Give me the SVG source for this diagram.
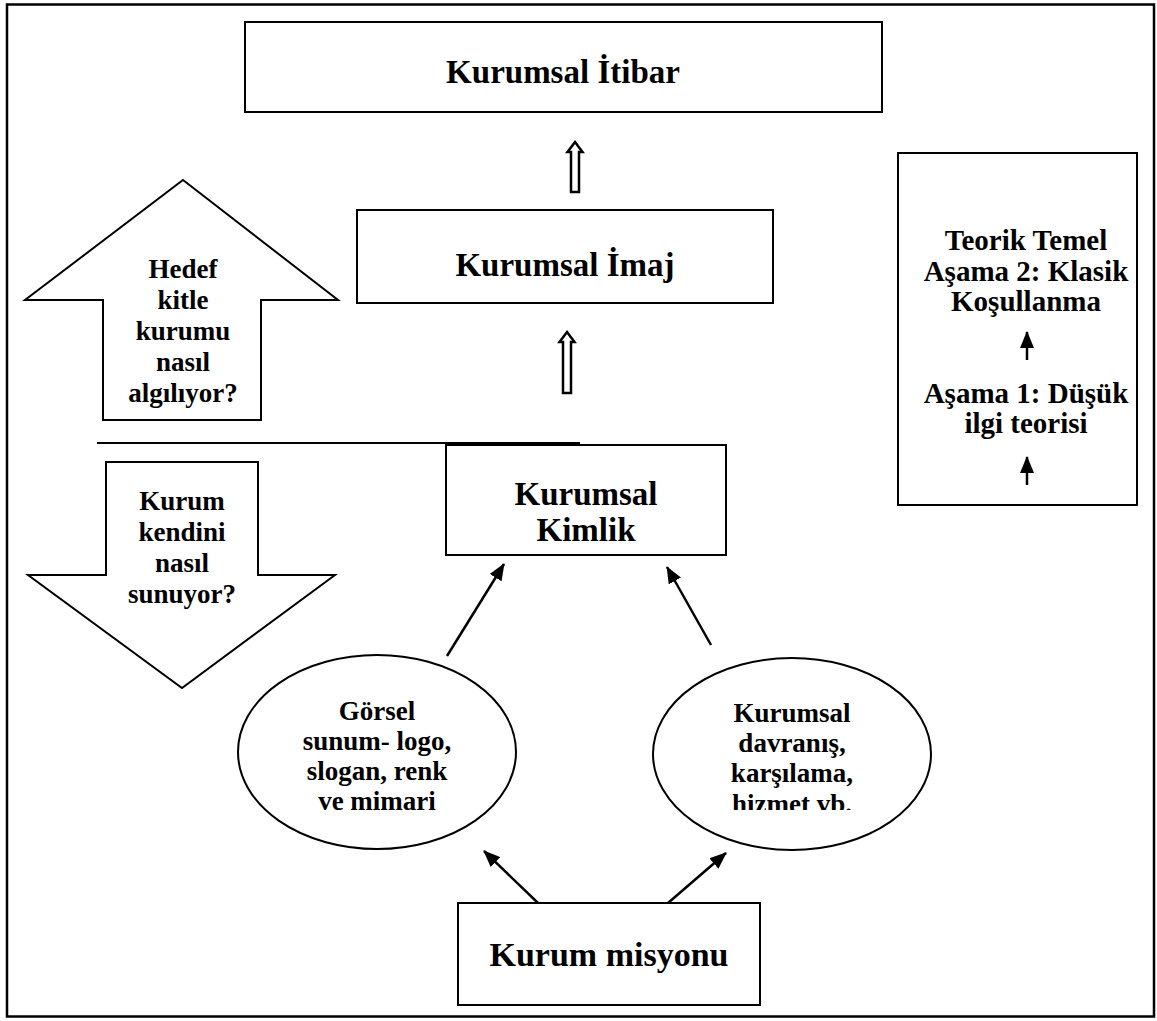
<svg xmlns="http://www.w3.org/2000/svg" width="1157" height="1021" viewBox="0 0 1157 1021">
  <style>
    .box { fill: #fff; stroke: #000; stroke-width: 2; }
    .shape { fill: #fff; stroke: #000; stroke-width: 2; }
    .t { font-family: "Liberation Serif", "Times New Roman", serif; font-weight: bold; fill: #000; text-anchor: middle; }
    .big { font-size: 33px; }
    .mid { font-size: 27px; }
    .side { font-size: 29px; }
    .conn { stroke: #000; stroke-width: 2.5; fill: none; }
    .dbl { fill: #fff; stroke: #000; stroke-width: 2.5; stroke-linejoin: miter; }
  </style>
  <defs>
    <marker id="head" markerUnits="userSpaceOnUse" markerWidth="17" markerHeight="14" viewBox="0 0 17 14" refX="16" refY="7" orient="auto">
      <path d="M0,0 L17,7 L0,14 Z" fill="#000"/>
    </marker>
    <!-- the last line of the right ellipse overflows its text area and is cut off -->
    <clipPath id="cut-last">
      <rect x="640" y="600" width="300" height="210"/>
    </clipPath>
  </defs>

  <rect x="7" y="4.5" width="1147" height="1012" fill="#fff" stroke="#000" stroke-width="2.5"/>

  <g id="itibar">
    <rect class="box" x="245" y="22" width="637" height="90"/>
    <text class="t big" x="563" y="83">Kurumsal İtibar</text>
  </g>

  <g id="imaj">
    <rect class="box" x="357" y="210" width="416" height="93"/>
    <text class="t big" x="565" y="276">Kurumsal İmaj</text>
  </g>

  <g id="kimlik">
    <rect class="box" x="446" y="445" width="280" height="110"/>
    <text class="t big" x="586" y="505">Kurumsal</text>
    <text class="t big" x="586" y="541">Kimlik</text>
  </g>

  <g id="hedef-kitle">
    <polygon class="shape" points="183,180 338,300 261,300 261,420 103,420 103,300 25,300"/>
    <text class="t mid" x="183" y="278">Hedef</text>
    <text class="t mid" x="183" y="309">kitle</text>
    <text class="t mid" x="183" y="340">kurumu</text>
    <text class="t mid" x="183" y="371">nasıl</text>
    <text class="t mid" x="183" y="402">algılıyor?</text>
  </g>

  <line id="ayrim" x1="97" y1="443" x2="580" y2="443" stroke="#000" stroke-width="2"/>

  <g id="kurum-sunum">
    <polygon class="shape" points="106,462 258,462 258,575 335,575 182,688 28,575 106,575"/>
    <text class="t mid" x="182" y="510">Kurum</text>
    <text class="t mid" x="182" y="541">kendini</text>
    <text class="t mid" x="182" y="572">nasıl</text>
    <text class="t mid" x="182" y="603">sunuyor?</text>
  </g>

  <g id="gorsel">
    <ellipse class="shape" cx="377" cy="752" rx="139" ry="97"/>
    <text class="t mid" x="377" y="720">Görsel</text>
    <text class="t mid" x="377" y="750">sunum- logo,</text>
    <text class="t mid" x="377" y="780">slogan, renk</text>
    <text class="t mid" x="377" y="810">ve mimari</text>
  </g>

  <g id="davranis">
    <ellipse class="shape" cx="792" cy="754" rx="139" ry="96"/>
    <text class="t mid" x="792" y="722">Kurumsal</text>
    <text class="t mid" x="792" y="752">davranış,</text>
    <text class="t mid" x="792" y="782">karşılama,</text>
    <text class="t mid" x="792" y="813" clip-path="url(#cut-last)">hizmet vb.</text>
  </g>

  <g id="misyon">
    <rect class="box" x="458" y="903" width="302" height="102"/>
    <text class="t big" x="609" y="966" style="font-size:34px">Kurum misyonu</text>
  </g>

  <g id="teorik-temel">
    <rect class="box" x="898" y="153" width="239" height="352"/>
    <text class="t side" x="1026" y="250">Teorik Temel</text>
    <text class="t side" x="1026" y="281">Aşama 2: Klasik</text>
    <text class="t side" x="1026" y="311">Koşullanma</text>
    <text class="t side" x="1026" y="403">Aşama 1: Düşük</text>
    <text class="t side" x="1026" y="433">ilgi teorisi</text>
  </g>

  <g id="connectors">
    <path class="dbl" d="M575,142 L582.5,152 L579,152 L579,192 L571,192 L571,152 L567.5,152 Z"/>
    <path class="dbl" d="M567,332 L574.5,342 L571,342 L571,393 L563,393 L563,342 L559.5,342 Z"/>
    <line class="conn" x1="447" y1="656" x2="504" y2="564" marker-end="url(#head)"/>
    <line class="conn" x1="711" y1="645" x2="667" y2="567" marker-end="url(#head)"/>
    <line class="conn" x1="538" y1="903" x2="484" y2="851" marker-end="url(#head)"/>
    <line class="conn" x1="668" y1="903" x2="726" y2="853" marker-end="url(#head)"/>
    <line class="conn" x1="1027" y1="360" x2="1027" y2="332" stroke-width="2" marker-end="url(#head)"/>
    <line class="conn" x1="1027" y1="485" x2="1027" y2="457" stroke-width="2" marker-end="url(#head)"/>
  </g>
</svg>
